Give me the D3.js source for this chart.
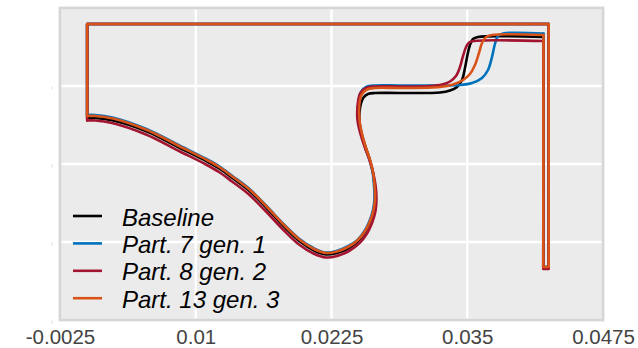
<!DOCTYPE html>
<meta charset="utf-8">
<body style="margin:0;background:#fff">
<script src="https://d3js.org/d3.v7.min.js"></script>
<script>
// axis ticks
var xTicks = [-0.0025, 0.01, 0.0225, 0.035, 0.0475];
var xTickLabels = ["-0.0025", "0.01", "0.0225", "0.035", "0.0475"];
var yTicks = [-0.0156, -0.0078, 0, 0.0078, 0.0156];

// series
var seriesNames = ["Baseline", "Part. 7 gen. 1", "Part. 8 gen. 2", "Part. 13 gen. 3"];
var seriesColors = ["#000000", "#0072BD", "#A2142F", "#D95319"];

// shared outer frame of the contour
var frameTop = 0.0140;
var outerWall = 0.0425;
var innerWall = 0.0420;
var tabBottom = [-0.0103, -0.0103, -0.0105, -0.0103];

// profiles, from the inner wall (right) to the left edge
var baseline = [
  [0.04202, 0.0127], [0.03599, 0.0127], [0.03553, 0.0125], [0.03525, 0.0119], [0.03502, 0.0109],
  [0.03479, 0.0096], [0.03452, 0.0084], [0.03406, 0.0077], [0.03341, 0.00735], [0.03249, 0.00715],
  [0.02881, 0.0071], [0.02651, 0.0071], [0.02586, 0.0070], [0.02545, 0.00665], [0.02522, 0.0061],
  [0.02508, 0.0052], [0.02508, 0.0042], [0.02531, 0.0029], [0.02568, 0.00155], [0.02605, 0.00035],
  [0.02632, -0.00085], [0.02646, -0.00215], [0.02651, -0.00345], [0.02637, -0.00465], [0.02605, -0.00575],
  [0.02559, -0.0068], [0.02494, -0.0077], [0.02402, -0.00845], [0.02301, -0.0089], [0.02199, -0.00905],
  [0.02089, -0.00865], [0.01960, -0.00775], [0.01822, -0.00635], [0.01656, -0.00445], [0.01500, -0.00275],
  [0.01343, -0.00145], [0.01223, -0.0005], [0.01104, 0.00025], [0.00855, 0.0016], [0.00551, 0.00325],
  [0.00238, 0.00435], [0.00072, 0.0046], [0, 0.0046]
];
var part7 = [
  [0.04202, 0.01305], [0.03829, 0.01305], [0.03783, 0.0128], [0.03755, 0.0120], [0.03728, 0.0107],
  [0.03691, 0.0094], [0.03636, 0.0086], [0.03544, 0.0081], [0.03433, 0.0079], [0.02881, 0.00785],
  [0.02651, 0.00785], [0.02568, 0.0077], [0.02522, 0.0072], [0.02499, 0.0063], [0.02499, 0.0045],
  [0.02522, 0.0031], [0.02559, 0.0017], [0.02600, 0.0004], [0.02628, -0.0008], [0.02641, -0.0021],
  [0.02646, -0.0034], [0.02632, -0.0046], [0.02600, -0.0057], [0.02554, -0.0067], [0.02489, -0.0076],
  [0.02397, -0.00825], [0.02296, -0.0087], [0.02195, -0.00885], [0.02084, -0.0084], [0.01955, -0.0075],
  [0.01817, -0.0061], [0.01651, -0.0042], [0.01495, -0.0025], [0.01338, -0.0012], [0.01219, -0.00025],
  [0.01099, 0.0005], [0.00850, 0.00185], [0.00546, 0.0035], [0.00233, 0.00465], [0.00072, 0.0049],
  [0, 0.0049]
];
var part8 = [
  [0.04202, 0.0123], [0.03562, 0.0123], [0.03516, 0.01215], [0.03489, 0.0117], [0.03461, 0.0108],
  [0.03433, 0.0097], [0.03396, 0.0088], [0.03341, 0.00825], [0.03268, 0.00795], [0.03157, 0.0078],
  [0.02881, 0.00775], [0.02651, 0.00775], [0.02568, 0.0076], [0.02517, 0.0071], [0.02494, 0.0062],
  [0.02489, 0.0044], [0.02517, 0.0030], [0.02559, 0.0016], [0.02600, 0.0004], [0.02632, -0.0008],
  [0.02655, -0.0021], [0.02664, -0.0034], [0.02655, -0.0047], [0.02623, -0.0059], [0.02577, -0.00695],
  [0.02508, -0.0079], [0.02411, -0.0087], [0.02301, -0.0092], [0.02199, -0.00935], [0.02084, -0.00895],
  [0.01951, -0.00805], [0.01813, -0.00665], [0.01647, -0.00475], [0.01490, -0.00305], [0.01334, -0.00175],
  [0.01214, -0.0008], [0.01094, -0.00005], [0.00846, 0.0013], [0.00542, 0.00295], [0.00229, 0.0041],
  [0.00072, 0.00435], [0, 0.00435]
];
var part13 = [
  [0.04202, 0.0129], [0.03728, 0.0129], [0.03673, 0.0127], [0.03636, 0.0121], [0.03608, 0.0111],
  [0.03571, 0.0099], [0.03525, 0.0090], [0.03461, 0.0084], [0.03369, 0.00795], [0.03249, 0.0077],
  [0.02881, 0.0076], [0.02651, 0.0076], [0.02577, 0.00745], [0.02531, 0.0070], [0.02508, 0.0061],
  [0.02508, 0.0044], [0.02531, 0.0030], [0.02568, 0.0016], [0.02605, 0.0004], [0.02632, -0.0008],
  [0.02646, -0.0021], [0.02651, -0.0034], [0.02637, -0.0046], [0.02605, -0.0057], [0.02559, -0.0067],
  [0.02494, -0.0076], [0.02402, -0.0083], [0.02301, -0.00875], [0.02199, -0.0089], [0.02089, -0.0085],
  [0.01960, -0.0076], [0.01822, -0.0062], [0.01656, -0.0043], [0.01500, -0.0026], [0.01343, -0.0013],
  [0.01223, -0.00035], [0.01104, 0.0004], [0.00855, 0.00175], [0.00551, 0.0034], [0.00238, 0.00455],
  [0.00072, 0.0048], [0, 0.0048]
];
var profiles = [baseline, part7, part8, part13];

var W = 638, H = 348;
var svg = d3.select("body").append("svg")
  .attr("width", W).attr("height", H)
  .style("font-family", "'Liberation Sans', Arial, sans-serif");

var x = d3.scaleLinear().domain([-0.0025, 0.0475]).range([60, 603]);
var y = d3.scaleLinear().domain([-0.0156, 0.0156]).range([320, 8]);

// panel
svg.append("rect")
  .attr("x", x.range()[0]).attr("y", y.range()[1])
  .attr("width", x.range()[1] - x.range()[0]).attr("height", y.range()[0] - y.range()[1])
  .attr("fill", "#EBEBEB");

// grid
svg.append("g").selectAll("line").data(xTicks).enter().append("line")
  .attr("x1", d => x(d)).attr("x2", d => x(d))
  .attr("y1", y.range()[1]).attr("y2", y.range()[0])
  .attr("stroke", "#fff").attr("stroke-width", 2.4);
svg.append("g").selectAll("line").data(yTicks).enter().append("line")
  .attr("x1", x.range()[0]).attr("x2", x.range()[1])
  .attr("y1", d => y(d)).attr("y2", d => y(d))
  .attr("stroke", "#fff").attr("stroke-width", 2.4);

// border
svg.append("rect")
  .attr("x", x.range()[0]).attr("y", y.range()[1])
  .attr("width", x.range()[1] - x.range()[0]).attr("height", y.range()[0] - y.range()[1])
  .attr("fill", "none").attr("stroke", "#D6D6D6").attr("stroke-width", 2.8);

// x axis labels
var xAxis = svg.append("g")
  .attr("transform", "translate(0," + (y.range()[0] + 6) + ")")
  .call(d3.axisBottom(x).tickValues(xTicks).tickSize(0)
    .tickFormat((d, i) => xTickLabels[i]));
xAxis.select(".domain").remove();
xAxis.selectAll("text")
  .attr("font-size", "20.5px")
  .attr("font-family", "'Liberation Sans', Arial, sans-serif")
  .attr("fill", "#444");

// y axis: blank labels, only faint marks
var yAxis = svg.append("g")
  .attr("transform", "translate(52,1.5)")
  .call(d3.axisLeft(y).tickValues(yTicks.slice(0, 4)).tickSize(0).tickFormat(""));
yAxis.select(".domain").remove();
yAxis.selectAll(".tick").append("line")
  .attr("y1", -1.5).attr("y2", 1.5)
  .attr("stroke", "#ddd").attr("stroke-width", 1);

// contours
var straight = d3.line().x(d => x(d[0])).y(d => y(d[1]));
var smooth = d3.line().x(d => x(d[0])).y(d => y(d[1])).curve(d3.curveCatmullRom.alpha(0.5));

var plot = svg.append("g");
profiles.forEach(function (p, i) {
  var first = p[0], last = p[p.length - 1];
  var frame = [
    [last[0], last[1]], [0, frameTop], [outerWall, frameTop],
    [outerWall, tabBottom[i]], [innerWall, tabBottom[i]], [first[0], first[1]]
  ];
  var g = plot.append("g").attr("class", "series");
  g.append("path").attr("d", straight(frame));
  g.append("path").attr("d", smooth(p));
  g.selectAll("path")
    .attr("fill", "none")
    .attr("stroke", seriesColors[i])
    .attr("stroke-width", 2.6)
    .attr("stroke-linejoin", "round")
    .attr("stroke-linecap", "round");
});

// legend
var legend = svg.append("g").attr("transform", "translate(73,216)");
seriesNames.forEach(function (name, i) {
  var row = legend.append("g").attr("transform", "translate(0," + (i * 27.4) + ")");
  row.append("line")
    .attr("x1", 0).attr("x2", 29)
    .attr("stroke", seriesColors[i]).attr("stroke-width", 2.6);
  row.append("text")
    .attr("x", 49).attr("y", 9.5)
    .attr("font-size", "24px")
    .attr("font-style", "italic")
    .attr("fill", "#000")
    .text(name);
});
</script>
</body>
